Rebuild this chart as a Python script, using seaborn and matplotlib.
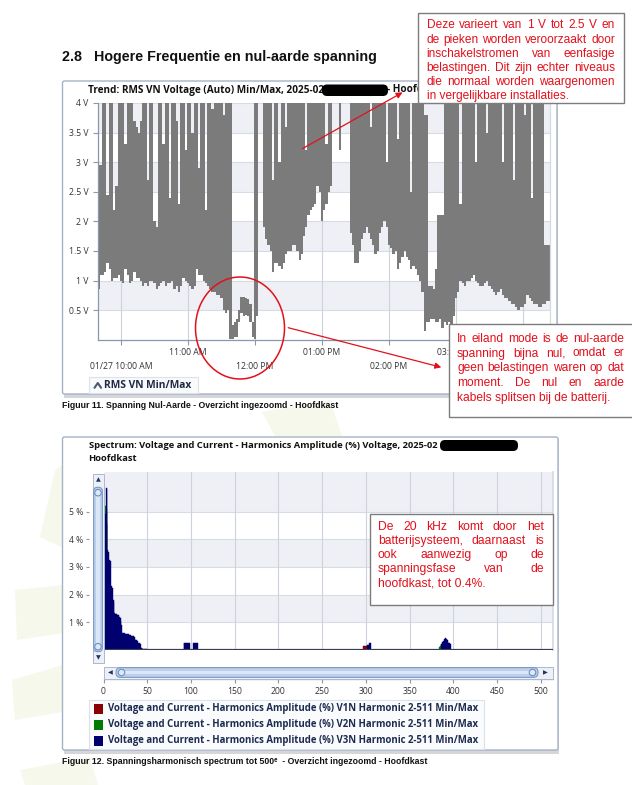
import numpy as np
import pandas as pd
import matplotlib
matplotlib.use("Agg")
import matplotlib.pyplot as plt
from matplotlib.patches import Rectangle, FancyBboxPatch, Ellipse, Polygon
import seaborn as sns

# ---------------- data ----------------
# trend: RMS VN voltage min/max per 2 minute bin, starting 09:40
v_lo = [0.85, 1.1, 1.1, 1.15, 1.3, 1.2, 1.0, 1.05, 1.05, 1.1,
        1.0, 0.95, 1.2, 1.1, 0.95, 1.0, 1.15, 1.05, 1.05, 1.0,
        0.9, 0.95, 0.9, 1.0, 1.0, 0.95, 0.85, 0.9, 0.95, 1.0,
        0.9, 0.95, 0.95, 1.0, 0.85, 0.9, 0.8, 0.9, 1.05, 1.0,
        0.95, 0.9, 0.85, 0.9, 1.2, 1.1, 1.1, 1.0, 0.95, 0.9,
        0.85, 0.8, 0.8, 0.75, 0.75, 0.7, 0.5, 0.45, 0.5, 0.02,
        0.02, 0.05, 0.05, 0.3, 0.45, 0.4, 0.42, 0.4, 0.3, 0.05,
        0.02, 0.4, 4.5, 4.5, 1.9, 1.7, 1.6, 1.5, 1.15, 1.3,
        1.3, 1.25, 1.2, 1.3, 1.45, 1.5, 1.5, 1.6, 1.6, 1.5,
        1.35, 1.45, 1.75, 1.9, 2.1, 2.2, 2.25, 2.3, 2.6, 2.5,
        2.0, 2.2, 2.3, 2.5, 2.6, 4.5, 4.5, 4.5, 3.2, 4.5,
        4.5, 4.5, 4.5, 1.8, 1.6, 1.3, 1.3, 1.5, 1.7, 1.8,
        1.9, 1.8, 1.7, 1.6, 1.45, 1.5, 1.8, 1.9, 2.0, 1.9,
        1.6, 1.55, 1.45, 1.5, 1.2, 1.3, 1.4, 1.5, 1.4, 1.35,
        1.2, 1.25, 1.2, 1.1, 1.0, 0.8, 0.15, 0.3, 0.3, 0.35,
        0.35, 0.3, 0.3, 0.35, 0.2, 0.3, 0.25, 0.3, 0.1, 0.4,
        0.7, 0.8, 1.0, 0.95, 0.9, 1.0, 1.0, 1.05, 1.1, 1.0,
        0.95, 0.9, 0.9, 0.95, 1.0, 0.9, 0.85, 0.8, 0.75, 0.8,
        0.85, 0.75, 0.7, 0.7, 0.65, 0.6, 0.6, 0.55, 0.5, 0.55,
        0.55, 0.6, 0.75, 0.7, 0.65, 0.6, 0.6, 0.55, 0.55, 0.6,
        0.6, 0.65, 0.65, 0.65]
v_hi = [2.95, 2.95, 4.3, 4.3, 2.45, 4.3, 4.3, 2.2, 2.6, 4.3,
        4.3, 4.3, 3.3, 4.3, 4.3, 4.3, 3.7, 3.6, 3.5, 3.7,
        4.3, 4.3, 2.7, 4.3, 4.3, 2.0, 1.9, 4.3, 4.3, 3.3,
        4.3, 4.3, 2.4, 4.3, 4.3, 3.7, 2.3, 4.3, 4.3, 3.2,
        4.3, 4.3, 3.5, 4.3, 4.3, 2.9, 4.3, 4.3, 2.2, 4.3,
        4.3, 3.9, 4.3, 4.3, 4.3, 4.3, 3.8, 4.3, 4.3, 4.3,
        0.25, 0.3, 0.35, 0.5, 0.72, 0.72, 0.7, 0.68, 0.6, 0.3,
        4.3, 4.3, 5.0, 5.0, 4.3, 4.3, 4.3, 4.3, 2.7, 4.3,
        4.3, 3.0, 4.3, 4.3, 3.6, 4.3, 4.3, 4.3, 4.3, 4.3,
        4.3, 4.3, 4.3, 3.2, 4.3, 4.3, 4.3, 4.3, 4.3, 4.3,
        4.3, 4.3, 3.3, 4.3, 4.3, 5.0, 5.0, 5.0, 4.3, 5.0,
        5.0, 5.0, 5.0, 4.3, 4.3, 4.3, 4.3, 4.3, 4.3, 4.3,
        4.3, 4.3, 3.6, 4.3, 4.3, 4.3, 4.3, 4.3, 4.3, 3.0,
        4.3, 4.3, 4.3, 4.3, 3.4, 4.3, 4.3, 4.3, 4.3, 4.3,
        2.5, 4.3, 4.3, 4.3, 4.3, 4.3, 3.8, 3.8, 0.9, 0.9,
        0.85, 1.2, 2.1, 2.1, 2.1, 4.3, 4.3, 4.3, 4.3, 4.3,
        4.3, 4.3, 2.3, 4.3, 4.3, 4.3, 4.3, 4.3, 4.3, 3.0,
        4.3, 4.3, 4.3, 4.3, 3.5, 4.3, 4.3, 4.3, 4.3, 4.3,
        4.3, 3.0, 4.3, 4.3, 4.3, 4.3, 2.7, 4.3, 4.3, 4.3,
        4.3, 3.8, 4.3, 4.3, 2.4, 4.3, 4.3, 4.3, 4.3, 4.3,
        1.6, 1.6, 1.6, 1.6]
trend_yticks = [0.5, 1, 1.5, 2, 2.5, 3, 3.5, 4]
trend_ylabels = ["0.5 V", "1 V", "1.5 V", "2 V", "2.5 V", "3 V", "3.5 V", "4 V"]
hours_low = [10, 12, 14, 16]
labels_low = ["01/27 10:00 AM", "12:00 PM", "02:00 PM", "04:00 PM"]
hours_up = [11, 13, 15]
labels_up = ["11:00 AM", "01:00 PM", "03:00 PM"]

# spectrum: harmonic amplitude (%) per phase
h_v3 = list(range(2, 50)) + list(range(92, 99)) + list(range(103, 108)) \
    + list(range(302, 306)) + list(range(387, 398))
a_v3 = [4.9, 5.84, 5.8, 3.6, 3.55, 3.25, 3.2, 2.3, 2.25, 1.8,
        1.75, 1.33, 1.3, 1.3, 1.28, 1.25, 1.2, 1.15, 1.05, 0.9,
        0.62, 0.6, 0.6, 0.58, 0.58, 0.57, 0.58, 0.56, 0.55, 0.55,
        0.5, 0.5, 0.49, 0.48, 0.38, 0.37, 0.36, 0.33, 0.25, 0.25,
        0.22, 0.07, 0.06, 0.04, 0.04, 0.04, 0.04, 0.03,
        0.26, 0.27, 0.26, 0.26, 0.25, 0.26, 0.25,
        0.24, 0.25, 0.24, 0.24, 0.24,
        0.17, 0.17, 0.25, 0.25,
        0.22, 0.28, 0.33, 0.4, 0.42, 0.4, 0.36, 0.3, 0.26, 0.25, 0.2]
h_v2 = [2, 3, 4, 384, 385, 386, 387, 388]
a_v2 = [5.2, 5.1, 5.0, 0.12, 0.15, 0.17, 0.2, 0.22]
h_v1 = [2, 3, 4, 297, 298, 299, 300, 301]
a_v1 = [4.7, 4.6, 4.5, 0.15, 0.15, 0.15, 0.15, 0.15]
spec_xticks = [0, 50, 100, 150, 200, 250, 300, 350, 400, 450, 500]
spec_yticks = [1, 2, 3, 4, 5]
spec_ylabels = ["1 %", "2 %", "3 %", "4 %", "5 %"]
legend_names = ["Voltage and Current - Harmonics Amplitude (%) V1N Harmonic 2-511 Min/Max",
                "Voltage and Current - Harmonics Amplitude (%) V2N Harmonic 2-511 Min/Max",
                "Voltage and Current - Harmonics Amplitude (%) V3N Harmonic 2-511 Min/Max"]
phase_colors = ["#8b0000", "#007a00", "#00006e"]

note1 = ["Deze varieert van 1 V tot 2.5 V en",
         "de pieken worden veroorzaakt door",
         "inschakelstromen van eenfasige",
         "belastingen. Dit zijn echter niveaus",
         "die normaal worden waargenomen",
         "in vergelijkbare installaties."]
note2 = ["In eiland mode is de nul-aarde",
         "spanning bijna nul, omdat er",
         "geen belastingen waren op dat",
         "moment. De nul en aarde",
         "kabels splitsen bij de batterij."]
note3 = ["De 20 kHz komt door het",
         "batterijsysteem, daarnaast is",
         "ook aanwezig op de",
         "spanningsfase van de",
         "hoofdkast, tot 0.4%."]

# ---------------- style ----------------
sns.set_theme(style="white")
UI = ["Open Sans", "DejaVu Sans"]
plt.rcParams["font.family"] = UI
ARIAL = ["Liberation Sans", "DejaVu Sans"]
RED = "#e3101c"
W, H = 632, 785
PT = 0.72  # points per pixel at 100 dpi

fig = plt.figure(figsize=(W / 100, H / 100), dpi=100)
fig.patch.set_facecolor("white")
renderer = fig.canvas.get_renderer()


def px_axes(x0, y0, x1, y1, **kw):
    return fig.add_axes([x0 / W, 1 - y1 / H, (x1 - x0) / W, (y1 - y0) / H], **kw)


def fit_text(ax, x, y, s, width, **kw):
    # size the text so that it spans the given pixel width
    t = ax.text(x, y, s, fontsize=10, **kw)
    w10 = t.get_window_extent(renderer).width
    t.set_fontsize(10 * width / w10)
    return t


bg = px_axes(0, 0, W, H, zorder=-1)
bg.set_xlim(0, W)
bg.set_ylim(H, 0)
bg.axis("off")

# faint watermark shapes
for pts in [[(40, 537), (55, 470), (63, 465), (63, 548)],
            [(15, 590), (63, 585), (63, 633), (17, 640)],
            [(12, 680), (63, 665), (63, 712), (15, 720)],
            [(25, 785), (20, 770), (90, 757), (98, 785)],
            [(262, 412), (330, 400), (342, 436), (275, 436)]]:
    bg.add_patch(Polygon(pts, closed=True, fc="#f6f8ec", ec="none", zorder=0))

# heading
fit_text(bg, 62, 57, "2.8   Hogere Frequentie en nul-aarde spanning", 314, family=ARIAL,
         fontweight="bold", va="center", ha="left", color="#111111")


def chart_box(x0, y0, x1, y1):
    bg.add_patch(Rectangle((x0 + 1, y0 + 2), x1 - x0, y1 - y0 + 1.5, fc="#d4d6d9", ec="none", zorder=1))
    bg.add_patch(FancyBboxPatch((x0, y0), x1 - x0, y1 - y0, boxstyle="round,pad=0,rounding_size=2",
                                fc="white", ec="#a6b2c6", lw=1.0, zorder=1.5))


chart_box(62.5, 81, 557, 394)
chart_box(62.5, 437, 558, 750)

# trend title + redaction
tt = fit_text(bg, 87.5, 90, "Trend: RMS VN Voltage (Auto) Min/Max, 2025-02", 236,
              fontweight="bold", va="center", color="#111111", zorder=3)
bg.text(387, 90, "- Hoofdkast", fontsize=tt.get_fontsize(), fontweight="bold", va="center",
        color="#111111", zorder=3)
bg.add_patch(FancyBboxPatch((322, 84.5), 66, 11.5, boxstyle="round,pad=0,rounding_size=5",
                            fc="black", ec="none", zorder=4))

# trend legend
bg.add_patch(Rectangle((88.6, 376.7), 109, 16.6, fc="#f9fafc", ec="#dde2ea", lw=0.8, zorder=2))
bg.plot([94.5, 97.8, 101.1], [387.8, 383.0, 387.8], color="#4a5872", lw=1.5, zorder=3,
        solid_capstyle="round")
fit_text(bg, 104, 385.5, "RMS VN Min/Max", 88, fontweight="bold", va="center",
         color="#1f2a44", zorder=3)
fit_text(bg, 62, 405.5, "Figuur 11. Spanning Nul-Aarde - Overzicht ingezoomd - Hoofdkast", 277,
         family=ARIAL, fontweight="bold", va="center", color="#111111")

# spectrum title + redaction
st = fit_text(bg, 88.6, 445.5, "Spectrum: Voltage and Current - Harmonics Amplitude (%) Voltage, 2025-02",
              351, fontweight="bold", va="center", color="#111111", zorder=3)
bg.text(88.6, 458.5, "Hoofdkast", fontsize=st.get_fontsize(), fontweight="bold", va="center",
        color="#111111", zorder=3)
bg.add_patch(FancyBboxPatch((440, 440), 78, 11, boxstyle="round,pad=0,rounding_size=5",
                            fc="black", ec="none", zorder=4))

# spectrum legend
bg.add_patch(Rectangle((88.6, 700), 395, 49, fc="#fafbfc", ec="#dde2ea", lw=0.8, zorder=2))
for k, (name, col) in enumerate(zip(legend_names, phase_colors)):
    yy = 709 + 16 * k
    bg.add_patch(Rectangle((93.7, yy - 5), 9.6, 10, fc=col, ec="none", zorder=3))
    fit_text(bg, 107.7, yy, name, 370, fontweight="bold", va="center", color="#1c2b50", zorder=3)
fit_text(bg, 62, 761, "Figuur 12. Spanningsharmonisch spectrum tot 500\u1d49  - Overzicht ingezoomd - Hoofdkast",
         366, family=ARIAL, fontweight="bold", va="center", color="#111111")

# ---------------- trend chart ----------------
GRID = "#d6dbe5"
BAND = "#eef0f5"
AXC = "#8d97ab"
ax1 = px_axes(97.7, 103, 550, 339.7)
times = pd.date_range("2025-01-27 09:40", periods=len(v_hi), freq="2min")
hours = times.hour + times.minute / 60
for b0 in [0.5, 1.5, 2.5, 3.5]:
    ax1.axhspan(b0, b0 + 0.5, color=BAND, lw=0, zorder=0)
ax1.fill_between(hours, v_lo, v_hi, step="mid", color="#7b7b7b", lw=0, zorder=2)
ax1.set_xlim(10 + (97.7 - 121) / 67, 10 + (550 - 121) / 67)
ax1.set_ylim(0, 4)
ax1.set_yticks(trend_yticks)
ax1.set_yticklabels(trend_ylabels)
ax1.set_xticks(hours_up)
ax1.set_xticklabels(labels_up)
ax1.set_xticks(hours_low, minor=True)
ax1.set_xticklabels(labels_low, minor=True)
for y in trend_yticks:
    ax1.axhline(y, color=GRID, lw=0.8, zorder=1)
for hh in hours_up + hours_low:
    ax1.axvline(hh, color="#cdd3de", lw=0.8, zorder=1)
ax1.tick_params(axis="y", which="major", length=5 * PT, width=0.8, color=AXC, pad=3,
                labelsize=6.2, labelcolor="#333333", left=True)
ax1.tick_params(axis="x", which="major", length=5 * PT, width=0.8, color=AXC, pad=2.2,
                labelsize=6.2, labelcolor="#333333", bottom=True)
ax1.tick_params(axis="x", which="minor", length=5 * PT, width=0.8, color=AXC, pad=12.8,
                labelsize=6.2, labelcolor="#333333", bottom=True)
ax1.spines["top"].set_visible(False)
ax1.spines["right"].set_color("#d5dae3")
ax1.spines["left"].set_color(AXC)
ax1.spines["bottom"].set_color(AXC)
for s in ax1.spines.values():
    s.set_linewidth(0.9)
ax1.patch.set_alpha(0)

# ---------------- spectrum chart ----------------
ax2 = px_axes(103.5, 472, 553, 650)
for b0, b1 in [(1, 2), (3, 4), (5, 7)]:
    ax2.axhspan(b0, b1, color=BAND, lw=0, zorder=0)
for y in spec_yticks:
    ax2.axhline(y, color=GRID, lw=0.8, zorder=1)
for xx in spec_xticks[1:]:
    ax2.axvline(xx, color="#cdd3de", lw=0.8, zorder=1)
for hs, amps, col in [(h_v1, a_v1, phase_colors[0]), (h_v2, a_v2, phase_colors[1]),
                      (h_v3, a_v3, phase_colors[2])]:
    df = pd.DataFrame({"harmonic": hs, "amp": amps})
    sns.barplot(data=df, x="harmonic", y="amp", native_scale=True, width=1.0, color=col,
                saturation=1, errorbar=None, linewidth=0.3, edgecolor=col, ax=ax2, zorder=3)
ax2.axhline(0, color="#3a3d52", lw=1.6, zorder=4)
ax2.set_xlim(0, (553 - 103.5) / 0.8745)
ax2.set_ylim(0, 178 / 27.7)
ax2.set_xticks(spec_xticks)
ax2.set_xticklabels([str(v) for v in spec_xticks])
ax2.set_yticks(spec_yticks)
ax2.set_yticklabels(spec_ylabels)
ax2.set_xlabel("")
ax2.set_ylabel("")
ax2.spines["left"].set_position(("outward", 14.5 * PT))
ax2.spines["left"].set_visible(False)
ax2.spines["top"].set_visible(False)
ax2.spines["right"].set_color("#d5dae3")
ax2.spines["bottom"].set_position(("outward", 29 * PT))
ax2.spines["bottom"].set_color("#8794ad")
ax2.spines["bottom"].set_linewidth(0.9)
ax2.tick_params(axis="y", length=3 * PT, width=0.8, color=AXC, pad=2.2, labelsize=6.2,
                labelcolor="#333333", left=True)
ax2.tick_params(axis="x", length=3.5 * PT, width=0.8, color=AXC, pad=3.0, labelsize=6.2,
                labelcolor="#333333", bottom=True)
ax2.patch.set_alpha(0)

# ---------------- overlay: scrollbars, notes, marks ----------------
top = px_axes(0, 0, W, H, zorder=5)
top.set_xlim(0, W)
top.set_ylim(H, 0)
top.axis("off")

# vertical scrollbar
top.add_patch(Rectangle((92.5, 474), 11, 189, fc="#edf1f7", ec="#aab8cf", lw=0.7))
top.add_patch(FancyBboxPatch((93.6, 487.3), 8.8, 164.4, boxstyle="round,pad=0,rounding_size=4",
                             fc="#bcd0ec", ec="#7d9bc8", lw=0.8))
top.add_patch(Rectangle((96.2, 495), 3.6, 148, fc="#dbe6f6", ec="none"))
for yy in [492.7, 646.7]:
    top.add_patch(Ellipse((98, yy), 6.5, 6.5, fc="#dfe8f6", ec="#6f8fc0", lw=0.8))
top.text(98, 479.5, "\u25b2", fontsize=4.5, ha="center", va="center", color="#1f3566",
         family=["DejaVu Sans"])
top.text(98, 657.8, "\u25bc", fontsize=4.5, ha="center", va="center", color="#1f3566",
         family=["DejaVu Sans"])

# horizontal scrollbar
top.add_patch(Rectangle((103.5, 666.5), 449.5, 12, fc="#edf1f7", ec="#aab8cf", lw=0.7))
top.add_patch(FancyBboxPatch((116, 667.6), 422, 9.8, boxstyle="round,pad=0,rounding_size=4.5",
                             fc="#bcd0ec", ec="#7d9bc8", lw=0.8))
top.add_patch(Rectangle((124, 670.8), 406, 3.6, fc="#dbe6f6", ec="none"))
for xx in [121.5, 532.5]:
    top.add_patch(Ellipse((xx, 672.5), 6.5, 6.5, fc="#dfe8f6", ec="#6f8fc0", lw=0.8))
top.text(110.6, 672.5, "\u25c0", fontsize=4.5, ha="center", va="center", color="#1f3566",
         family=["DejaVu Sans"])
top.text(545, 672.5, "\u25b6", fontsize=4.5, ha="center", va="center", color="#1f3566",
         family=["DejaVu Sans"])


def note(lines, box, x0, x1, y0, dy, last_w):
    bx0, by0, bx1, by1 = box
    top.add_patch(Rectangle((bx0, by0), bx1 - bx0, by1 - by0, fc="white", ec="#7c7c7c", lw=1.0))
    probe = top.text(0, 0, lines[-1], family=ARIAL, fontsize=10)
    size = 10 * last_w / probe.get_window_extent(renderer).width
    probe.remove()
    for k, line in enumerate(lines):
        y = y0 + k * dy
        if k == len(lines) - 1:
            top.text(x0, y, line, family=ARIAL, fontsize=size, color=RED, va="center_baseline")
            continue
        words = line.split()
        objs = [top.text(0, y, w, family=ARIAL, fontsize=size, color=RED, va="center_baseline")
                for w in words]
        widths = [o.get_window_extent(renderer).width for o in objs]
        gap = (x1 - x0 - sum(widths)) / (len(words) - 1)
        x = x0
        for o, wd in zip(objs, widths):
            o.set_x(x)
            x += wd + gap


note(note1, (417.5, 12.5, 624, 103), 426.7, 614.8, 24, 14.2, 143)
note(note2, (448.7, 324, 633, 417), 457, 624, 337.3, 14.7, 153)
note(note3, (369.5, 514, 552.7, 605), 378, 544, 525, 14.2, 107)

# red marks
top.add_patch(Ellipse((240, 328), 89, 102, fc="none", ec=RED, lw=1.1))
top.annotate("", xy=(405, 91), xytext=(300, 150),
             arrowprops=dict(arrowstyle="-|>", color=RED, lw=0.9, mutation_scale=9))
top.annotate("", xy=(444, 368), xytext=(285.5, 327),
             arrowprops=dict(arrowstyle="-|>", color=RED, lw=0.9, mutation_scale=9))

fig.savefig("out.png", dpi=100)
